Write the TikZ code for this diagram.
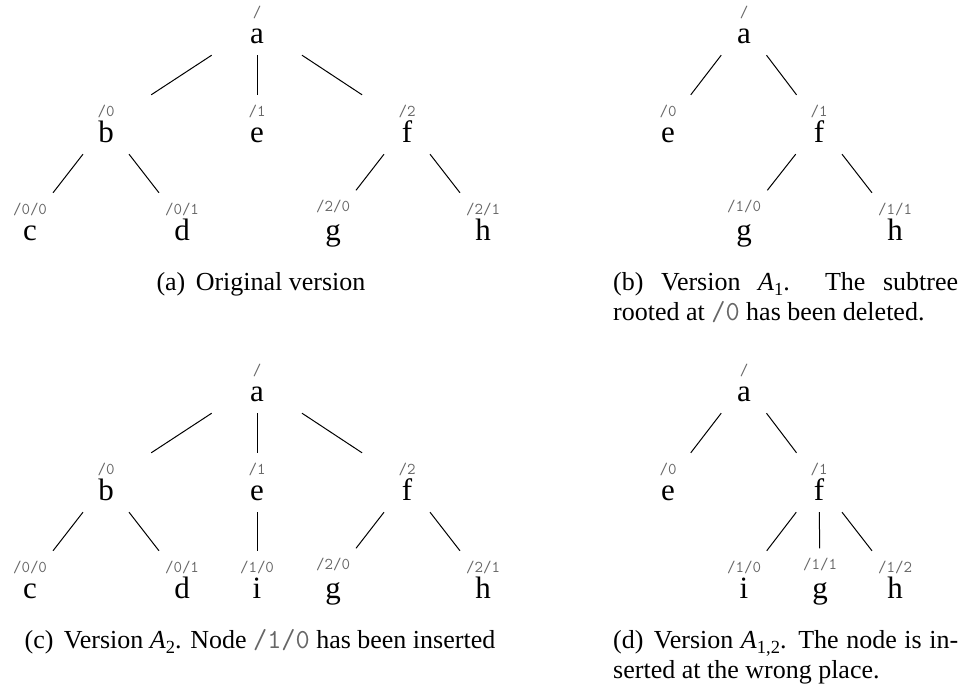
\documentclass[tikz,border=0pt]{standalone}
\usepackage{fontspec}
\setmainfont{Liberation Serif}

% path label in typewriter, grey (caption size)
\newcommand{\code}[1]{{\fontsize{27.5}{30}\selectfont\ttfamily\color{black!60}#1}}
% upright subscript for version names
\newcommand{\idx}[1]{\raisebox{-0.22em}{\fontsize{18.5}{18.5}\selectfont #1}}
% tree node: invisible frame, letter below its centre, path label above
% #1 letter offset, #2 name, #3 x, #4 y, #5 letter, #6 path label
\newcommand{\treenode}[6][17.5]{%
  \node[tn] (#2) at (#3,#4) {};
  \node[letter, anchor=base] (#2-t) at ([yshift=-#1pt]#2.center) {#5};
  \node[lbl, anchor=base] (#2-l) at ([yshift=8.5pt]#2.center) {#6};}

\begin{document}
\begin{tikzpicture}[x=1pt,y=-1pt,
  tn/.style={rectangle, draw=none, inner sep=0pt, minimum width=100pt, minimum height=59pt},
  letter/.style={inner sep=0pt, font=\fontsize{31}{31}\selectfont},
  lbl/.style={inner sep=0pt, text=black!60, font=\fontsize{16.5}{16.5}\selectfont\ttfamily},
  branch/.style={line width=1pt},
  capt/.style={inner sep=0pt, font=\fontsize{26}{30}\selectfont}]
\useasboundingbox (0,0) rectangle (967,688);

% ---- (a) original version ----
\treenode{A-a}{257}{25.5}{a}{/}
\treenode{A-b}{106}{124.5}{b}{/0}
\treenode{A-e}{257}{124.5}{e}{/1}
\treenode{A-f}{407}{124.5}{f}{/2}
\treenode{A-c}{30}{222.5}{c}{/0/0}
\treenode{A-d}{182}{222.5}{d}{/0/1}
\treenode[20]{A-g}{333}{220}{g}{/2/0}
\treenode{A-h}{483}{222.5}{h}{/2/1}
\draw[branch] (A-a) -- (A-b);
\draw[branch] (A-a) -- (A-e);
\draw[branch] (A-a) -- (A-f);
\draw[branch] (A-b) -- (A-c);
\draw[branch] (A-b) -- (A-d);
\draw[branch] (A-f) -- (A-g);
\draw[branch] (A-f) -- (A-h);
\node[capt, anchor=base] (capA) at (261,290) {(a)\hspace{0.4em}Original version};

% ---- (b) version A1 ----
\treenode{B-a}{744}{25.5}{a}{/}
\treenode{B-e}{668}{124.5}{e}{/0}
\treenode{B-f}{819}{124.5}{f}{/1}
\treenode[20]{B-g}{744}{220}{g}{/1/0}
\treenode{B-h}{895}{222.5}{h}{/1/1}
\draw[branch] (B-a) -- (B-e);
\draw[branch] (B-a) -- (B-f);
\draw[branch] (B-f) -- (B-g);
\draw[branch] (B-f) -- (B-h);
\node[capt, anchor=base west] (capB1) at (613,290)
  {\hbox to 345pt{(b)\hfil Version\hfil \textit{A}\idx{1}.{\hskip 0pt plus 2fil}The\hfil subtree}};
\node[capt, anchor=base west] (capB2) at (613,320) {rooted at \code{/0} has been deleted.};

% ---- (c) version A2 ----
\treenode{C-a}{257}{383.5}{a}{/}
\treenode{C-b}{106}{482.5}{b}{/0}
\treenode{C-e}{257}{482.5}{e}{/1}
\treenode{C-f}{407}{482.5}{f}{/2}
\treenode{C-c}{30}{580.5}{c}{/0/0}
\treenode{C-d}{182}{580.5}{d}{/0/1}
\treenode{C-i}{257}{580.5}{i}{/1/0}
\treenode[20]{C-g}{333}{578}{g}{/2/0}
\treenode{C-h}{483}{580.5}{h}{/2/1}
\draw[branch] (C-a) -- (C-b);
\draw[branch] (C-a) -- (C-e);
\draw[branch] (C-a) -- (C-f);
\draw[branch] (C-b) -- (C-c);
\draw[branch] (C-b) -- (C-d);
\draw[branch] (C-e) -- (C-i);
\draw[branch] (C-f) -- (C-g);
\draw[branch] (C-f) -- (C-h);
\node[capt, anchor=base] (capC) at (260,648)
  {(c)\hspace{0.4em}Version \textit{A}\idx{2}. Node \code{/1/0} has been inserted};

% ---- (d) version A1,2 ----
\treenode{D-a}{744}{383.5}{a}{/}
\treenode{D-e}{668}{482.5}{e}{/0}
\treenode{D-f}{819}{482.5}{f}{/1}
\treenode{D-i}{744}{580.5}{i}{/1/0}
\treenode[20]{D-g}{820}{578}{g}{/1/1}
\treenode{D-h}{895}{580.5}{h}{/1/2}
\draw[branch] (D-a) -- (D-e);
\draw[branch] (D-a) -- (D-f);
\draw[branch] (D-f) -- (D-i);
\draw[branch] (D-f) -- (D-g);
\draw[branch] (D-f) -- (D-h);
\node[capt, anchor=base west] (capD1) at (613,648)
  {\hbox to 345pt{(d)\hspace{0.4em}Version \textit{A}\idx{1,2}. The node is in-}};
\node[capt, anchor=base west] (capD2) at (613,678) {serted at the wrong place.};
\end{tikzpicture}
\end{document}
